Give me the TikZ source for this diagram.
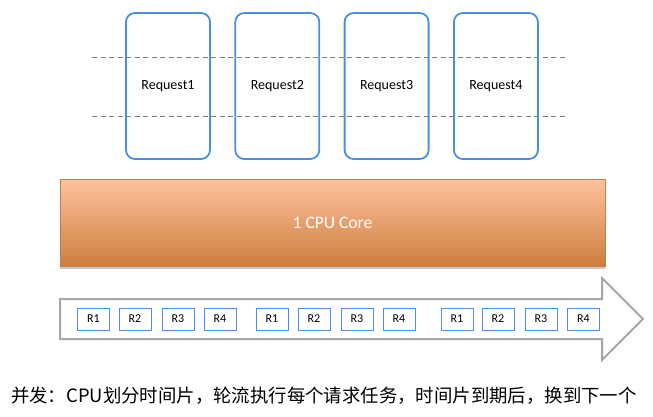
\documentclass[tikz,border=0pt]{standalone}
\usepackage{fontspec}
\setmainfont{Carlito}
\newfontfamily\cjk{Noto Sans CJK SC}
\usetikzlibrary{shadows}

\definecolor{reqblue}{RGB}{74,144,226}
\definecolor{cputop}{RGB}{255,193,158}
\definecolor{cpubottom}{RGB}{204,126,62}
\definecolor{cpuedge}{RGB}{196,128,72}
\definecolor{linegray}{RGB}{166,166,166}

\tikzset{
    request/.style={draw=reqblue, line width=1.8pt, rounded corners=9pt,
        minimum width=84pt, minimum height=146pt,
        font=\fontsize{14}{16}\selectfont},
    slice/.style={draw=reqblue, line width=.8pt, inner sep=0pt,
        minimum width=32pt, minimum height=22pt,
        font=\fontsize{12}{14}\selectfont},
    cpu/.style={draw=cpuedge, line width=.6pt, top color=cputop,
        bottom color=cpubottom, minimum width=545pt, minimum height=87pt,
        text=white, font=\fontsize{17.5}{20}\selectfont,
        drop shadow={shadow xshift=0pt, shadow yshift=-2.5pt, fill=black!60, opacity=.35}},
    guide/.style={draw=black!50, line width=.8pt, dash pattern=on 5pt off 3.5pt},
    timeline/.style={draw=linegray, line width=2pt, fill=white, line join=miter},
}

\begin{document}
\begin{tikzpicture}[x=1pt, y=-1pt]
    \useasboundingbox (0,0) rectangle (653,416);
    \draw[guide] (92,57) -- (566,57);
    \draw[guide] (92,116) -- (566,116);
    \foreach \i in {1,...,4}
        \node[request] (req\i) at ({168+109.3*(\i-1)},86) {Request\i};
    \node[cpu] (core) at (332.5,223) {1 CPU Core};
    \draw[timeline] (60,299) -- (602,299) -- (602,278) -- (643,319) --
        (602,360) -- (602,339) -- (60,339) -- cycle;
    \foreach \x/\r [count=\i] in {93.5/1,135/2,178/3,220/4,
                                  272/1,314/2,357/3,399/4,
                                  457/1,498/2,541/3,583.5/4}
        \node[slice] (r\i) at (\x,319) {R\r};
    \node[font=\cjk\fontsize{18.4}{20}\selectfont, inner sep=0pt, anchor=west] (caption)
        at (11,396) {并发：CPU划分时间片，轮流执行每个请求任务，时间片到期后，换到下一个};
\end{tikzpicture}
\end{document}
